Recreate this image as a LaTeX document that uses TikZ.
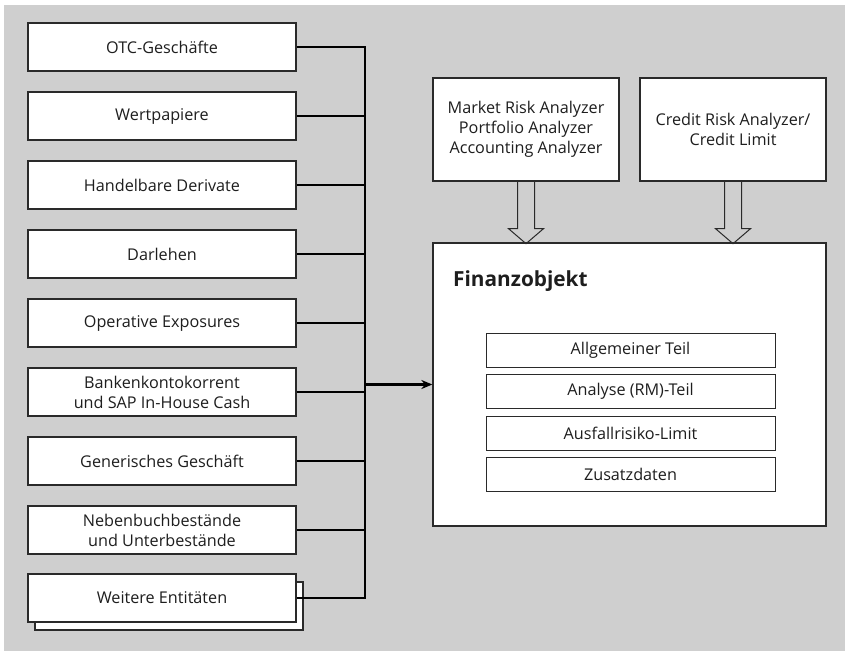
\documentclass[tikz,border=0pt]{standalone}
\usepackage{fontspec}
\setmainfont{Open Sans}
\usetikzlibrary{arrows.meta,calc}
\definecolor{bg}{HTML}{CFCFCF}
\definecolor{boxline}{HTML}{2A2A2A}
\definecolor{txt}{HTML}{1E1E1E}
\begin{document}
\begin{tikzpicture}[x=1pt,y=-1pt,
  box/.style={draw=boxline,line width=1.3pt,fill=white,minimum width=268pt,minimum height=48pt,
    align=center,text=txt,font=\fontsize{16.2}{20}\selectfont,inner sep=0pt},
  topbox/.style={box,minimum width=186pt,minimum height=103pt,font=\fontsize{16.2}{20}\selectfont},
  bigbox/.style={draw=boxline,line width=1.3pt,fill=white,minimum width=393pt,minimum height=283pt,inner sep=0pt},
  part/.style={box,line width=1pt,minimum width=289pt,minimum height=34pt},
  bus/.style={draw=black,line width=1.6pt},
  harrow/.style={draw=boxline,line width=1pt,line join=miter},
  mainarrow/.style={draw=black,line width=2.4pt,-{Stealth[length=11pt,width=9pt]}}
]
\useasboundingbox (0,0) rectangle (845,651);
\fill[bg] (4,5) rectangle (845,651);

% left boxes
\node[box] (b1) at (162,47) {OTC-Geschäfte};
\node[box] (b2) at (162,116) {Wertpapiere};
\node[box] (b3) at (162,185) {Handelbare Derivate};
\node[box] (b4) at (162,254) {Darlehen};
\node[box] (b5) at (162,323) {Operative Exposures};
\node[box] (b6) at (162,392) {Bankenkontokorrent\\und SAP In-House Cash};
\node[box] (b7) at (162,461) {Generisches Geschäft};
\node[box] (b8) at (162,530) {Nebenbuchbestände\\ und Unterbestände};
\node[box] (b9s) at (169,606) {};
\node[box] (b9) at (162,598) {Weitere Entitäten};

% bus
\coordinate (busx) at (365,0);
\foreach \b in {b1,b2,b3,b4,b5,b6,b7,b8,b9}
  \draw[bus] (\b.east) -- (\b.east -| busx);
\draw[bus,line cap=rect] (b1.east -| busx) -- (b9.east -| busx);

% right side
\node[topbox] (mra) at (526,129.5) {Market Risk Analyzer\\Portfolio Analyzer\\Accounting Analyzer};
\node[topbox] (cra) at (733,129.5) {Credit Risk Analyzer/\\Credit Limit};
\node[bigbox] (fin) at (629.5,384.5) {};
\node[anchor=base west,inner sep=0pt,text=txt,font=\fontsize{20.8}{24}\selectfont\bfseries] (title) at (453,286) {Finanzobjekt};

\node[part] (p1) at (630.5,350) {Allgemeiner Teil};
\node[part] (p2) at (630.5,391.5) {Analyse (RM)-Teil};
\node[part] (p3) at (630.5,433) {Ausfallrisiko-Limit};
\node[part] (p4) at (630.5,474.5) {Zusatzdaten};

% main arrow
\draw[mainarrow] (fin.west -| busx) -- (fin.west);

% hollow arrows
\draw[harrow] (mra.south) ++(-8.5,0) -- ++(0,47) -- ++(-9,0) -- ++(17.5,15) -- ++(17.5,-15) -- ++(-9,0) -- ++(0,-47);
\draw[harrow] (cra.south) ++(-8.5,0) -- ++(0,47) -- ++(-9,0) -- ++(17.5,15) -- ++(17.5,-15) -- ++(-9,0) -- ++(0,-47);
\end{tikzpicture}
\end{document}
